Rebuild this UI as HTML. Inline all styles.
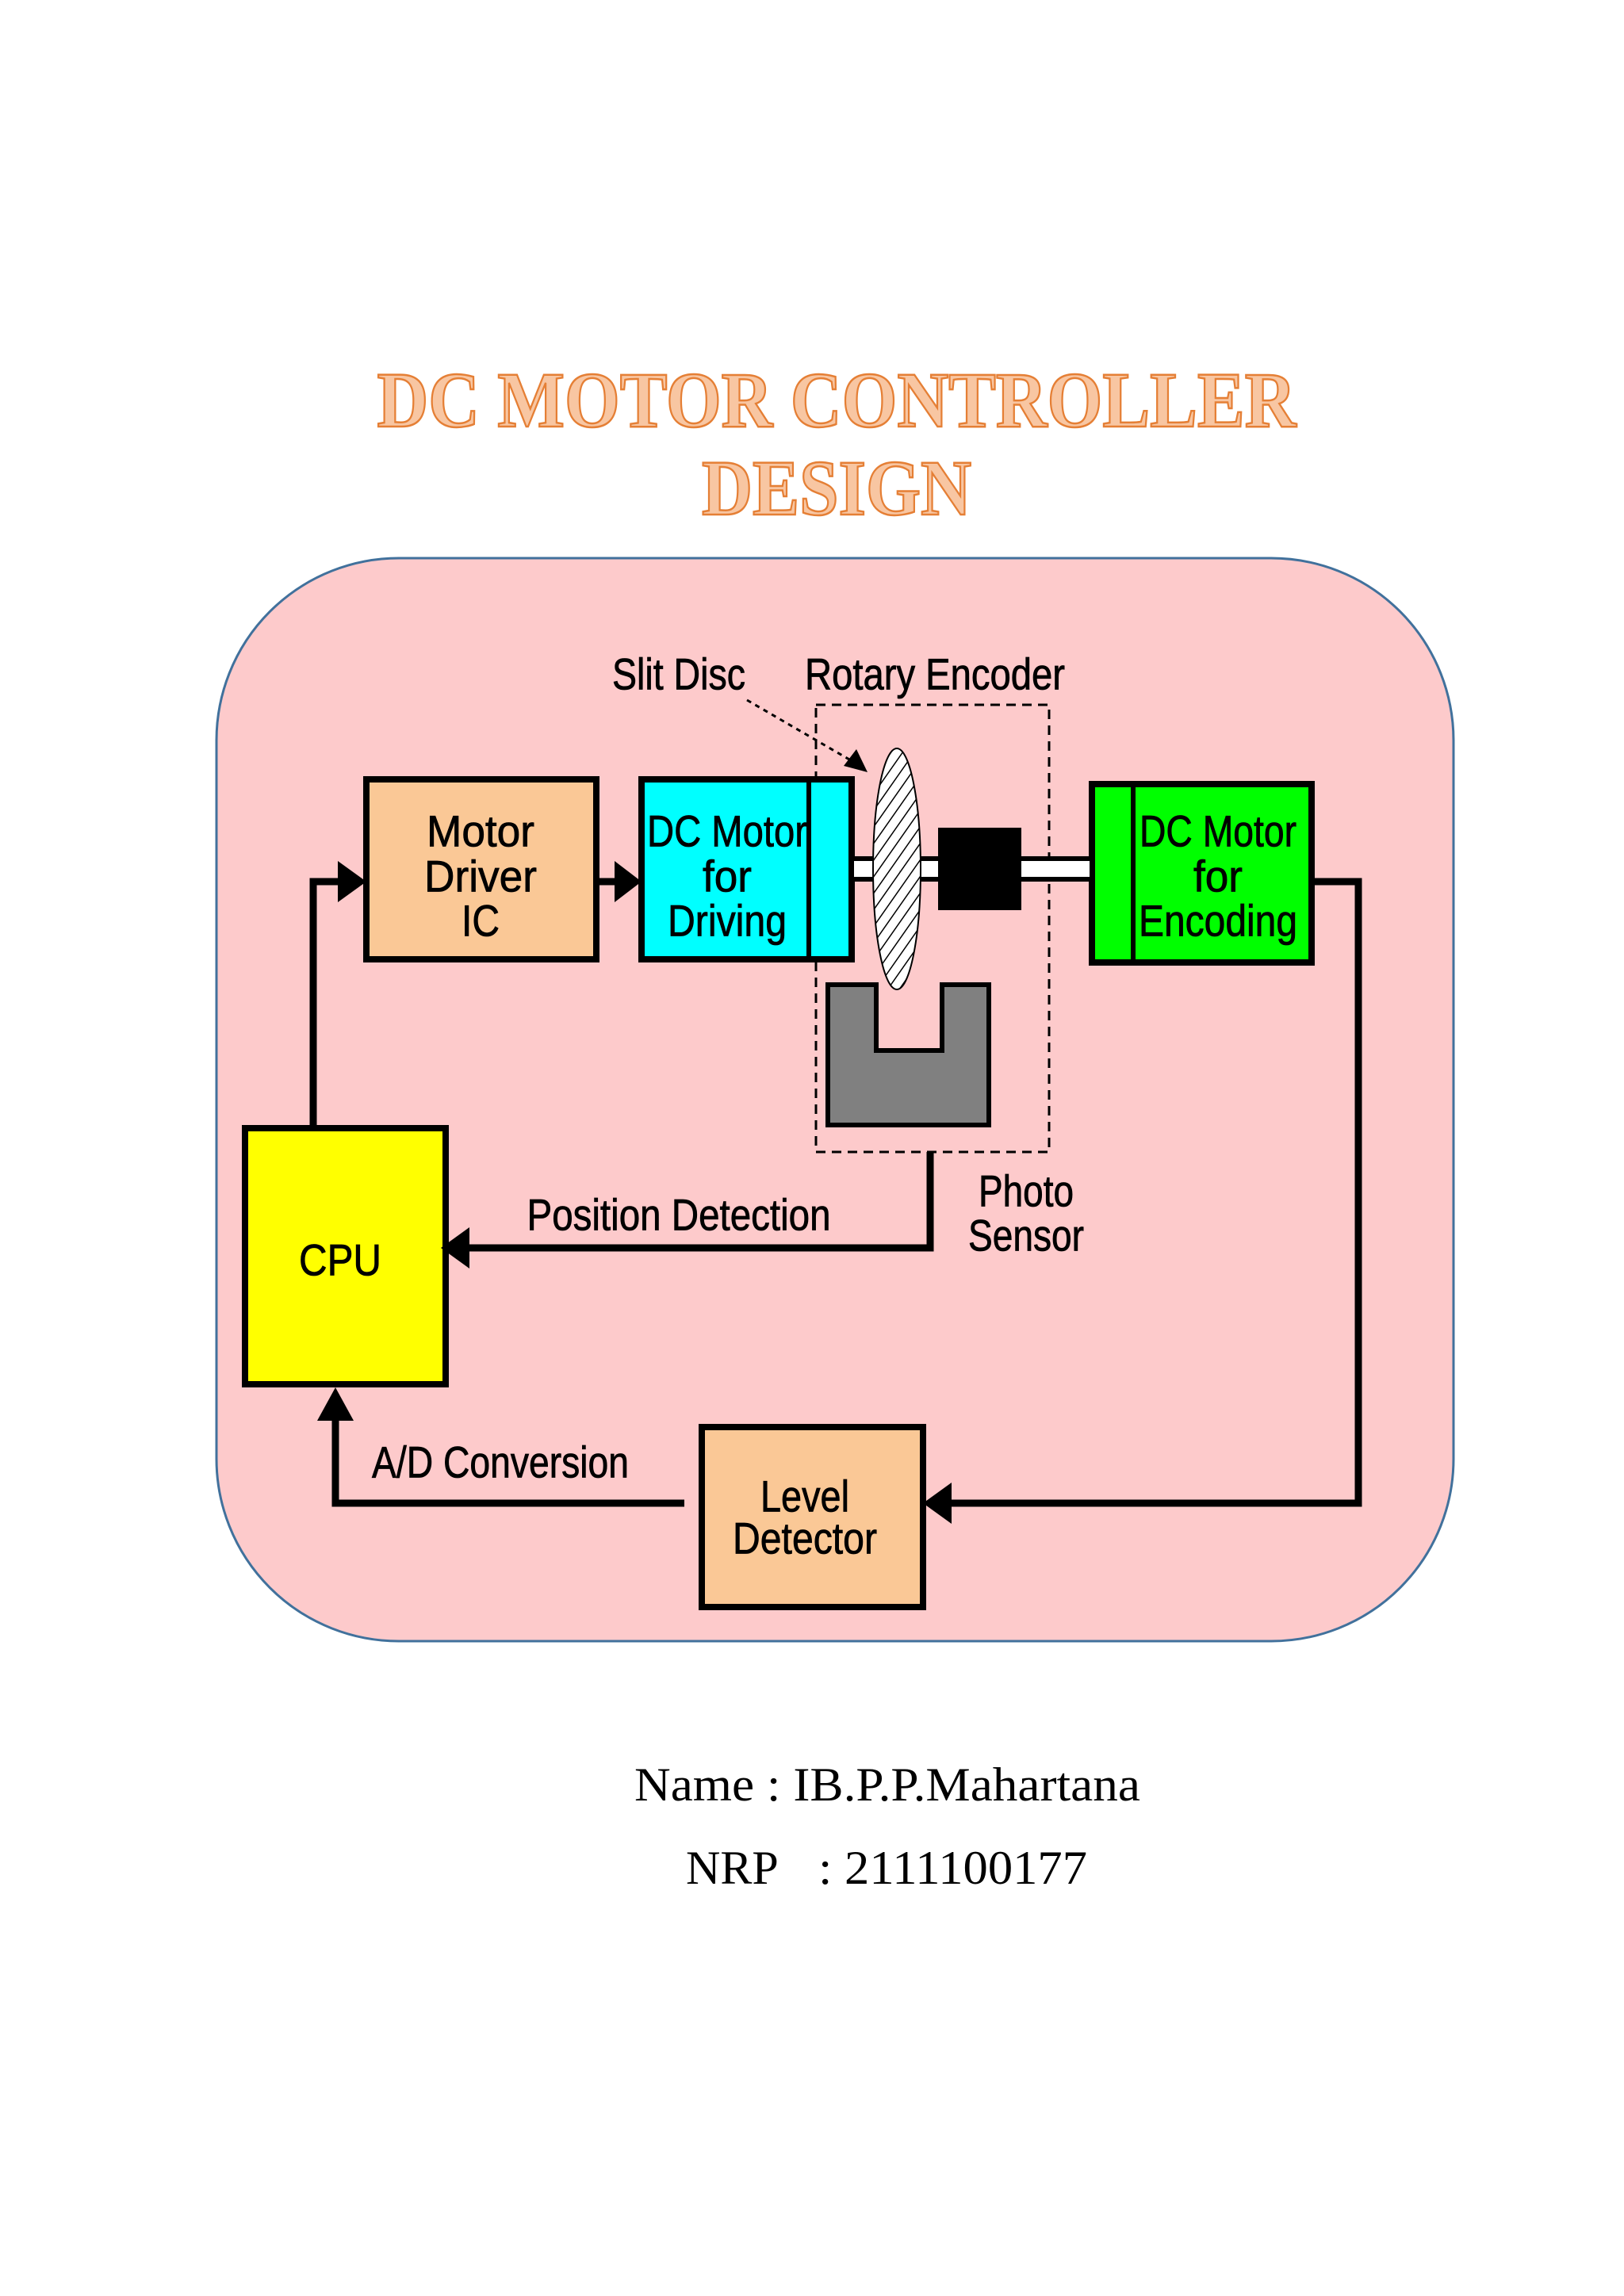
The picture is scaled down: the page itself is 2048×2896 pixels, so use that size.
<!DOCTYPE html>
<html><head><meta charset="utf-8"><style>
html,body{margin:0;padding:0;background:#fff;}
svg{display:block;}
</style></head><body>
<svg width="2048" height="2896" viewBox="0 0 2048 2896" xmlns="http://www.w3.org/2000/svg">
<defs>
<pattern id="hatch" patternUnits="userSpaceOnUse" width="12" height="12" patternTransform="rotate(35)">
<rect width="12" height="12" fill="#fff"/>
<line x1="0" y1="0" x2="0" y2="12" stroke="#000" stroke-width="3"/>
</pattern>
</defs>
<rect width="2048" height="2896" fill="#fff"/>
<g font-family="Liberation Serif, serif" font-weight="bold" fill="#f8c6a2" stroke="#e57f35" stroke-width="2.5" text-anchor="middle">
<text x="1055" y="538" font-size="100" textLength="1159" lengthAdjust="spacingAndGlyphs">DC MOTOR CONTROLLER</text>
<text x="1055" y="649" font-size="100" textLength="340" lengthAdjust="spacingAndGlyphs">DESIGN</text>
</g>
<rect x="273" y="704" width="1560" height="1366" rx="230" ry="230" fill="#fdcacb" stroke="#41719c" stroke-width="3"/>
<rect x="1029" y="889" width="294" height="564" fill="none" stroke="#000" stroke-width="3" stroke-dasharray="12,8"/>
<rect x="462" y="983" width="290" height="227" fill="#fac896" stroke="#000" stroke-width="8"/>
<rect x="809" y="983" width="265" height="227" fill="#00ffff" stroke="#000" stroke-width="8"/>
<line x1="1020" y1="983" x2="1020" y2="1210" stroke="#000" stroke-width="6"/>
<rect x="1377" y="989" width="277" height="225" fill="#00ff00" stroke="#000" stroke-width="8"/>
<line x1="1429" y1="989" x2="1429" y2="1214" stroke="#000" stroke-width="6"/>
<rect x="1074" y="1083" width="303" height="26" fill="#fff" stroke="#000" stroke-width="6"/>
<rect x="1183" y="1044" width="105" height="104" fill="#000"/>
<ellipse cx="1131" cy="1096" rx="30" ry="152" fill="url(#hatch)" stroke="#000" stroke-width="2"/>
<path d="M1044 1242 H1105 V1325 H1188 V1242 H1247 V1419 H1044 Z" fill="#808080" stroke="#000" stroke-width="6"/>
<rect x="309" y="1423" width="253" height="323" fill="#ffff00" stroke="#000" stroke-width="8"/>
<rect x="885" y="1800" width="279" height="227" fill="#fac896" stroke="#000" stroke-width="8"/>
<g stroke="#000" stroke-width="9" fill="none">
<polyline points="395,1423 395,1112 430,1112"/>
<line x1="752" y1="1112" x2="780" y2="1112"/>
<polyline points="1654,1112 1713,1112 1713,1896 1200,1896"/>
<polyline points="863,1896 423,1896 423,1785"/>
<polyline points="1173,1453 1173,1574 590,1574"/>
</g>
<g fill="#000">
<polygon points="462,1112 426,1086 426,1138"/>
<polygon points="809,1112 775,1086 775,1138"/>
<polygon points="1164,1896 1200,1870 1200,1922"/>
<polygon points="423,1750 400,1792 446,1792"/>
<polygon points="556,1574 592,1548 592,1600"/>
<polygon points="1094,974 1064,966 1080,945"/>
</g>
<line x1="942" y1="883" x2="1078" y2="962" stroke="#000" stroke-width="3" stroke-dasharray="6,6"/>
<g font-family="Liberation Sans, sans-serif" fill="#000" text-anchor="middle" dominant-baseline="central" font-size="56" stroke="#000" stroke-width="0.8">
<text x="856" y="850" textLength="168" lengthAdjust="spacingAndGlyphs">Slit Disc</text>
<text x="1179" y="850" textLength="328" lengthAdjust="spacingAndGlyphs">Rotary Encoder</text>
<text x="606" y="1048" textLength="136" lengthAdjust="spacingAndGlyphs">Motor</text>
<text x="606" y="1105" textLength="142" lengthAdjust="spacingAndGlyphs">Driver</text>
<text x="606" y="1161" textLength="48" lengthAdjust="spacingAndGlyphs">IC</text>
<text x="917" y="1048" textLength="202" lengthAdjust="spacingAndGlyphs">DC Motor</text>
<text x="917" y="1105" textLength="62" lengthAdjust="spacingAndGlyphs">for</text>
<text x="917" y="1161" textLength="150" lengthAdjust="spacingAndGlyphs">Driving</text>
<text x="1536" y="1048" textLength="198" lengthAdjust="spacingAndGlyphs">DC Motor</text>
<text x="1536" y="1105" textLength="62" lengthAdjust="spacingAndGlyphs">for</text>
<text x="1536" y="1161" textLength="200" lengthAdjust="spacingAndGlyphs">Encoding</text>
<text x="429" y="1589" textLength="104" lengthAdjust="spacingAndGlyphs">CPU</text>
<text x="856" y="1532" textLength="383" lengthAdjust="spacingAndGlyphs">Position Detection</text>
<text x="1294" y="1502" textLength="120" lengthAdjust="spacingAndGlyphs">Photo</text>
<text x="1294" y="1558" textLength="146" lengthAdjust="spacingAndGlyphs">Sensor</text>
<text x="631" y="1844" textLength="324" lengthAdjust="spacingAndGlyphs">A/D Conversion</text>
<text x="1015" y="1887" textLength="112" lengthAdjust="spacingAndGlyphs">Level</text>
<text x="1015" y="1940" textLength="182" lengthAdjust="spacingAndGlyphs">Detector</text>
</g>
<g font-family="Liberation Serif, serif" fill="#000" font-size="60" dominant-baseline="central">
<text x="800" y="2251" textLength="638" lengthAdjust="spacingAndGlyphs">Name : IB.P.P.Mahartana</text>
<text x="865" y="2356">NRP</text>
<text x="1032" y="2356" textLength="339" lengthAdjust="spacingAndGlyphs">: 2111100177</text>
</g>
</svg>
</body></html>
